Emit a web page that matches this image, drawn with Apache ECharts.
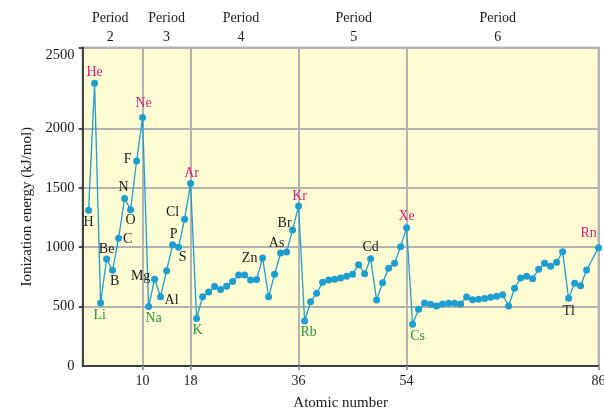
<!DOCTYPE html>
<html>
<head>
<meta charset="utf-8">
<script src="https://cdn.jsdelivr.net/npm/echarts@6/dist/echarts.min.js"></script>
<style>html,body{margin:0;padding:0;background:#fff;}#c{width:604px;height:408px;}</style>
</head>
<body>
<div id="c"></div>
<script>
// ---- data ----
const atomicNumbers = [1,2,3,4,5,6,7,8,9,10,11,12,13,14,15,16,17,18,19,20,21,22,23,24,25,26,27,28,29,30,31,32,33,34,35,36,37,38,39,40,41,42,43,44,45,46,47,48,49,50,51,52,53,54,55,56,57,58,59,60,61,62,63,64,65,66,67,68,69,70,71,72,73,74,75,76,77,78,79,80,81,82,83,84,86];
const energies = [1310,2380,530,900,805,1075,1410,1315,1725,2090,500,730,583,802,1020,1000,1235,1535,400,583,623,668,643,671,710,766,766,724,727,909,583,772,951,960,1145,1347,379,541,612,704,724,730,740,756,773,853,777,903,556,701,822,864,1004,1164,351,477,530,519,505,522,527,527,522,581,558,561,567,578,587,600,505,654,741,755,735,814,864,839,873,962,570,696,676,808,996];
const labeledNumbers = [1,2,3,4,5,6,7,8,9,10,11,12,13,15,16,17,18,19,30,33,35,36,37,48,54,55,81,86];
const labeledSymbols = ['H','He','Li','Be','B','C','N','O','F','Ne','Na','Mg','Al','P','S','Cl','Ar','K','Zn','As','Br','Kr','Rb','Cd','Xe','Cs','Tl','Rn'];
const nobleGases = ['He','Ne','Ar','Kr','Xe','Rn'];
const alkaliMetals = ['Li','Na','K','Rb','Cs'];
const xTickValues = [10,18,36,54,86];
const yTickLabels = ['0','500','1000','1500','2000','2500'];
const periodNames = ['Period\n2','Period\n3','Period\n4','Period\n5','Period\n6'];

// ---- layout / style (not data) ----
const periodLabelAt = [4.6,14,26.4,45.2,69.2];
const yLabelAt = [0,500,1000,1500,2000,2618];
const yTickAt = [500,1000,1500,2000,2680];
const labelOffsets = {
  H:[0,12], He:[0,-11], Li:[-1,12], Be:[0,-10], B:[2,11], C:[9,1], N:[-1,-11], O:[0,11],
  F:[-9,-2], Ne:[1,-14], Na:[5,12], Mg:[-14,-3], Al:[11,4], P:[1,-10], S:[4,10], Cl:[-12,-7],
  Ar:[1,-10], K:[1,12], Zn:[-13,0], As:[-4,-10], Br:[-8,-7], Kr:[1,-10], Rb:[4,11],
  Cd:[0,-11], Xe:[0,-11], Cs:[5,12], Tl:[0,13], Rn:[-10,-14]
};
const FONT = 'Liberation Serif';
const LINE_COLOR = '#1c9fd0';

const symbolAt = {};
const seriesData = atomicNumbers.map((z, i) => {
  const item = { value: [z, energies[i]] };
  const li = labeledNumbers.indexOf(z);
  if (li >= 0) {
    const sym = labeledSymbols[li];
    symbolAt[i] = sym;
    const color = nobleGases.includes(sym) ? '#e5197b' : (alkaliMetals.includes(sym) ? '#26993a' : '#1a1a1a');
    item.label = {
      show: true, position: 'inside',
      formatter: sym, color: color, fontFamily: FONT, fontSize: 14,
      textBorderWidth: 0, textShadowBlur: 0
    };
  }
  return item;
});

const chart = echarts.init(document.getElementById('c'), null, {renderer: 'canvas'});
chart.setOption({
  animation: false,
  backgroundColor: '#ffffff',
  grid: {
    left: 82.6, right: 5.4, top: 47.5, bottom: 42,
    outerBoundsMode: 'none', containLabel: false,
    show: true, backgroundColor: '#fefcd2', borderColor: '#b3b3b3', borderWidth: 2
  },
  xAxis: [{
    type: 'value', min: 0, max: 86, position: 'bottom',
    name: 'Atomic number', nameLocation: 'middle', nameGap: 30,
    nameTextStyle: { fontFamily: FONT, fontSize: 15, color: '#1a1a1a' },
    axisLine: { show: true, lineStyle: { color: '#1a1a1a', width: 1.5 } },
    axisTick: { show: true, length: 4, customValues: xTickValues, lineStyle: { color: '#9a9a9a', width: 2 } },
    axisLabel: { customValues: xTickValues, margin: 8, fontFamily: FONT, fontSize: 14, color: '#1a1a1a' },
    splitLine: { show: true, lineStyle: { color: '#b3b3b3', width: 2 } }
  }, {
    type: 'value', min: 0, max: 86, position: 'top',
    axisLine: { show: false }, axisTick: { show: false }, splitLine: { show: false },
    axisLabel: {
      customValues: periodLabelAt, margin: 1,
      formatter: v => periodNames[periodLabelAt.indexOf(v)] || '',
      fontFamily: FONT, fontSize: 14, lineHeight: 19, color: '#1a1a1a', align: 'center'
    }
  }],
  yAxis: {
    type: 'value', min: 0, max: 2680,
    name: 'Ionization energy (kJ/mol)', nameLocation: 'middle', nameGap: 48,
    nameTextStyle: { fontFamily: FONT, fontSize: 15, color: '#1a1a1a' },
    axisLine: { show: true, lineStyle: { color: '#1a1a1a', width: 1.5 } },
    axisTick: { show: true, length: 4, customValues: yTickAt, lineStyle: { color: '#1a1a1a', width: 1.5 } },
    axisLabel: {
      customValues: yLabelAt, margin: 8,
      formatter: v => yTickLabels[yLabelAt.indexOf(v)],
      fontFamily: FONT, fontSize: 14.5, color: '#1a1a1a'
    },
    splitLine: { show: true, lineStyle: { color: '#b3b3b3', width: 2 } }
  },
  series: [{
    type: 'line', xAxisIndex: 0, data: seriesData,
    symbol: 'circle', symbolSize: 7, showAllSymbol: true,
    lineStyle: { color: LINE_COLOR, width: 1.3 },
    itemStyle: { color: LINE_COLOR },
    labelLayout: function (params) {
      const sym = symbolAt[params.dataIndex];
      const off = (sym && labelOffsets[sym]) || [0, 0];
      return { dx: off[0], dy: off[1], hideOverlap: false };
    }
  }]
});
</script>
</body>
</html>
